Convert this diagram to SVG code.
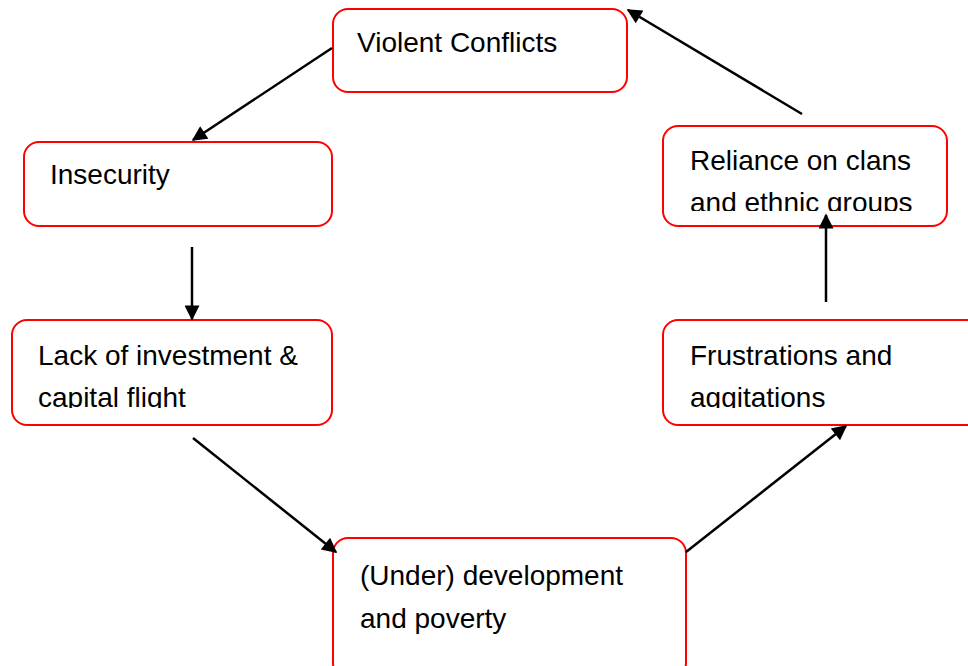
<svg xmlns="http://www.w3.org/2000/svg" width="968" height="666" viewBox="0 0 968 666">
  <style>
    .box { fill: #ffffff; stroke: #ff0000; stroke-width: 2; }
    .label { font-family: "Liberation Sans", Arial, sans-serif; font-size: 28px; fill: #000000; }
    .edge { stroke: #000000; stroke-width: 2.5; fill: none; marker-end: url(#head); }
  </style>
  <defs>
    <marker id="head" viewBox="0 0 10 10" refX="9" refY="5" markerUnits="userSpaceOnUse" markerWidth="17" markerHeight="15" orient="auto">
      <path d="M0,0 L10,5 L0,10 Z" fill="#000000"/>
    </marker>
    <clipPath id="clip-reliance"><rect x="663" y="126" width="284" height="85"/></clipPath>
    <clipPath id="clip-frustrations"><rect x="663" y="320" width="305" height="88"/></clipPath>
    <clipPath id="clip-lack"><rect x="12" y="320" width="320" height="88"/></clipPath>
  </defs>

  <g id="node-violent-conflicts">
    <rect class="box" x="333" y="9" width="294" height="83" rx="15"/>
    <text class="label" x="357" y="52">Violent Conflicts</text>
  </g>

  <g id="node-insecurity">
    <rect class="box" x="24" y="142" width="308" height="84" rx="15"/>
    <text class="label" x="50" y="184">Insecurity</text>
  </g>

  <g id="node-lack-of-investment">
    <rect class="box" x="12" y="320" width="320" height="105" rx="15"/>
    <g clip-path="url(#clip-lack)">
      <text class="label" x="38" y="365">Lack of investment &amp;</text>
      <text class="label" x="38" y="407">capital flight</text>
    </g>
  </g>

  <g id="node-underdevelopment">
    <rect class="box" x="333" y="538" width="353" height="140" rx="15"/>
    <text class="label" x="360" y="585">(Under) development</text>
    <text class="label" x="360" y="628">and poverty</text>
  </g>

  <g id="node-frustrations">
    <rect class="box" x="663" y="320" width="320" height="105" rx="15"/>
    <g clip-path="url(#clip-frustrations)">
      <text class="label" x="690" y="365">Frustrations and</text>
      <text class="label" x="690" y="407">aggitations</text>
    </g>
  </g>

  <g id="node-reliance">
    <rect class="box" x="663" y="126" width="284" height="100" rx="15"/>
    <g clip-path="url(#clip-reliance)">
      <text class="label" x="690" y="170">Reliance on clans</text>
      <text class="label" x="690" y="212">and ethnic groups</text>
    </g>
  </g>

  <g id="connectors">
    <line class="edge" x1="332" y1="48" x2="193" y2="140"/>
    <line class="edge" x1="192" y1="247" x2="192" y2="319"/>
    <line class="edge" x1="193" y1="438" x2="336" y2="552"/>
    <line class="edge" x1="686" y1="552" x2="846" y2="426"/>
    <line class="edge" x1="826" y1="302" x2="826" y2="215"/>
    <line class="edge" x1="802" y1="114" x2="628" y2="10"/>
  </g>
</svg>
